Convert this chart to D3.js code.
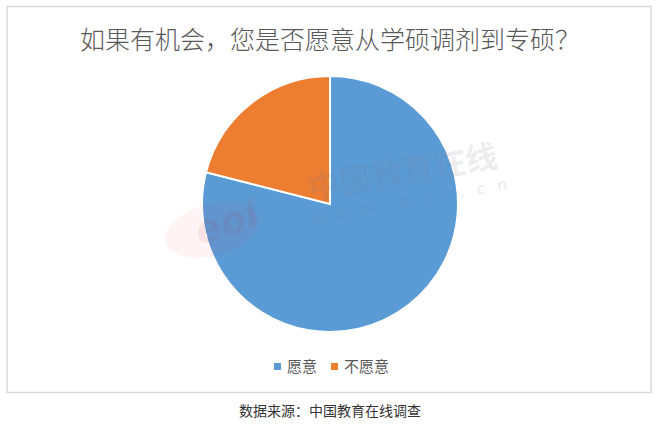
<!DOCTYPE html>
<html><head><meta charset="utf-8">
<script src="https://cdn.jsdelivr.net/npm/d3@7"></script>
<style>body{margin:0;background:#fff}svg{display:block}</style>
</head><body>
<script>
const title = "如果有机会，您是否愿意从学硕调剂到专硕？";
const categories = ["愿意", "不愿意"];
const values = [79, 21];
const colors = ["#5b9bd5", "#ed7d31"];
const source = "数据来源：中国教育在线调查";

const W = 660, H = 427;
const svg = d3.select("body").append("svg").attr("width", W).attr("height", H);
const font = "'Noto Sans CJK SC','Microsoft YaHei',sans-serif";

svg.append("rect").attr("x", 7).attr("y", 6.5).attr("width", 644).attr("height", 386)
  .attr("fill", "#fff").attr("stroke", "#d9d9d9").attr("stroke-width", 1.5);

svg.append("text").attr("x", 330).attr("y", 49).attr("text-anchor", "middle")
  .attr("font-family", font).attr("font-size", 25).attr("font-weight", 300)
  .attr("fill", "#595959").text(title);

const cx = 330, cy = 204, r = 128;
const pie = d3.pie().sort(null).value(d => d)(values);
const arc = d3.arc().innerRadius(0).outerRadius(r);
const g = svg.append("g").attr("transform", `translate(${cx},${cy})`);
g.selectAll("path").data(pie).join("path")
  .attr("d", arc).attr("fill", (d, i) => colors[i])
  .attr("stroke", "#fff").attr("stroke-width", 2);

// watermark
const wm = svg.append("g").attr("pointer-events", "none");
wm.append("ellipse").attr("cx", 212).attr("cy", 230).attr("rx", 48).attr("ry", 26)
  .attr("transform", "rotate(-15,212,230)").attr("fill", "#e8303a").attr("opacity", 0.05);
wm.append("text").attr("x", 200).attr("y", 245).attr("font-family", "DejaVu Sans")
  .attr("font-weight", "bold").attr("font-style", "italic").attr("font-size", 38)
  .attr("transform", "rotate(-18,200,245)").attr("fill", "#b03040").attr("opacity", 0.08).text("eol");
wm.append("text").attr("x", 310).attr("y", 200).attr("font-family", font).attr("font-size", 32)
  .attr("font-weight", "bold").attr("transform", "rotate(-10,310,200)")
  .attr("fill", "#7a7a90").attr("opacity", 0.13).text("中国教育在线");
wm.append("text").attr("x", 312).attr("y", 224).attr("font-family", "DejaVu Sans").attr("font-size", 16)
  .attr("letter-spacing", 12).attr("transform", "rotate(-10,312,224)")
  .attr("fill", "#7a7a90").attr("opacity", 0.15).text("www.eol.cn");

// legend
const legendX = [274, 331];
const lg = svg.append("g");
categories.forEach((c, i) => {
  lg.append("rect").attr("x", legendX[i]).attr("y", 363).attr("width", 7).attr("height", 7).attr("fill", colors[i]);
  lg.append("text").attr("x", legendX[i] + 13).attr("y", 372).attr("font-family", font)
    .attr("font-size", 15).attr("fill", "#595959").text(c);
});

svg.append("text").attr("x", 330).attr("y", 416).attr("text-anchor", "middle")
  .attr("font-family", font).attr("font-size", 14).attr("fill", "#333").text(source);
</script>
</body></html>
